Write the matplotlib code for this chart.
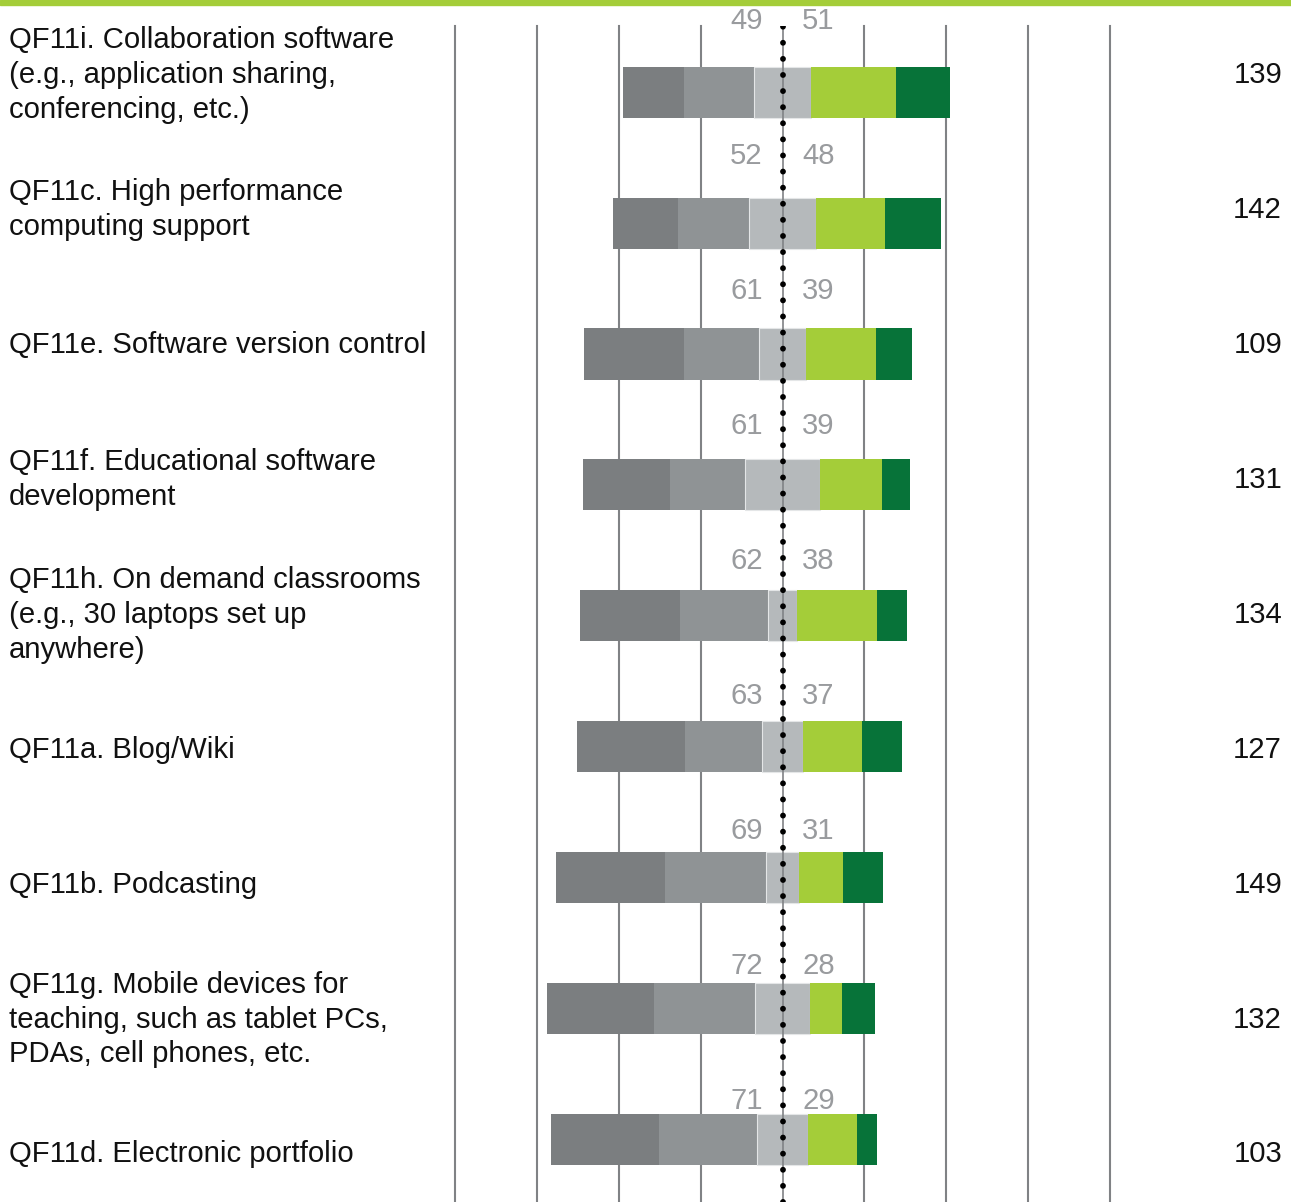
import numpy as np
import matplotlib
matplotlib.use('Agg')
import matplotlib.pyplot as plt
import matplotlib.transforms as mtransforms
from matplotlib.patches import Rectangle

# 문항 및 응답 데이터 (위에서 아래 순서)
items = [
    "QF11i. Collaboration software\n(e.g., application sharing,\nconferencing, etc.)",
    "QF11c. High performance\ncomputing support",
    "QF11e. Software version control",
    "QF11f. Educational software\ndevelopment",
    "QF11h. On demand classrooms\n(e.g., 30 laptops set up\nanywhere)",
    "QF11a. Blog/Wiki",
    "QF11b. Podcasting",
    "QF11g. Mobile devices for\nteaching, such as tablet PCs,\nPDAs, cell phones, etc.",
    "QF11d. Electronic portfolio",
]
n_resp = [139, 142, 109, 131, 134, 127, 149, 132, 103]
neg_pct = [49, 52, 61, 61, 62, 63, 69, 72, 71]
pos_pct = [51, 48, 39, 39, 38, 37, 31, 28, 29]

strongly_dis = [18.7, 19.8, 30.5, 26.5, 30.5, 32.9, 33.2, 32.6, 32.9]
disagree = [21.4, 21.7, 22.9, 23.0, 27.0, 23.5, 31.0, 31.0, 30.1]
neutral = [17.3, 20.4, 14.3, 22.8, 8.6, 12.6, 9.9, 16.5, 15.3]
agree = [25.9, 21.0, 21.3, 18.9, 24.7, 17.9, 13.4, 9.9, 15.2]
strongly_agr = [16.5, 17.1, 11.0, 8.5, 9.1, 12.4, 12.2, 10.1, 6.1]

colors = ['#7b7e80', '#8f9395', '#b5b9bb', '#a4cd39', '#077339']
grid_color = '#808285'
FS = 21.1

plt.rcParams['font.family'] = ['Liberation Sans', 'DejaVu Sans']

W, H = 1291, 1202
fig = plt.figure(figsize=(W / 100, H / 100), dpi=100)
ax = fig.add_axes([455 / W, 0, (1110 - 455) / W, 1 - 26 / H])

n = len(items)
y = np.arange(n)
sd = np.array(strongly_dis)
d = np.array(disagree)
ne = np.array(neutral)
a = np.array(agree)
sa = np.array(strongly_agr)

# 중립을 0 기준으로 반씩 나눠서 배치
start = -(sd + d + ne / 2)
h = 0.39
ax.barh(y, sd, left=start, height=h, color=colors[0], zorder=2)
ax.barh(y, d, left=start + sd, height=h, color=colors[1], zorder=2)
ax.barh(y, ne, left=-ne / 2, height=h, color=colors[2], edgecolor='#e4e6e7', linewidth=0.8, zorder=2)
ax.barh(y, a, left=ne / 2, height=h, color=colors[3], zorder=2)
ax.barh(y, sa, left=ne / 2 + a, height=h, color=colors[4], zorder=2)

for gx in [-100, -75, -50, -25, 25, 50, 75, 100]:
    ax.axvline(gx, color=grid_color, lw=1.5, zorder=1, clip_on=False)
ax.axvline(0, color=grid_color, lw=1.2, zorder=3)
ax.axvline(0, color='black', lw=4.2, linestyle=(0, (0.01, 2.75)),
           dash_capstyle='round', zorder=4)

ax.set_xlim(-100, 100)
ax.set_ylim(n - 1 + 0.479, -0.506)
ax.axis('off')

# 텍스트 행은 막대 간격보다 살짝 넓음
step = 1.031
trans_fig = mtransforms.blended_transform_factory(fig.transFigure, ax.transData)
for i in range(n):
    ty = -0.132 + step * i
    ax.text(9 / W, ty, items[i], transform=trans_fig, ha='left', va='center',
            fontsize=FS, color='#111111', linespacing=1.31)
    ax.text(1282 / W, ty, str(n_resp[i]), transform=trans_fig, ha='right',
            va='center', fontsize=FS, color='#111111')
    py = -0.544 + step * i
    ax.text(-11, py, str(neg_pct[i]), ha='center', va='center', fontsize=FS,
            color='#999b9e', clip_on=False)
    ax.text(11, py, str(pos_pct[i]), ha='center', va='center', fontsize=FS,
            color='#999b9e', clip_on=False)

# 상단 녹색 띠
fig.patches.append(Rectangle((0, 1 - 5 / H), 1, 5 / H, transform=fig.transFigure,
                             color='#a4cd39', zorder=0))

fig.savefig('out.png', dpi=100)
